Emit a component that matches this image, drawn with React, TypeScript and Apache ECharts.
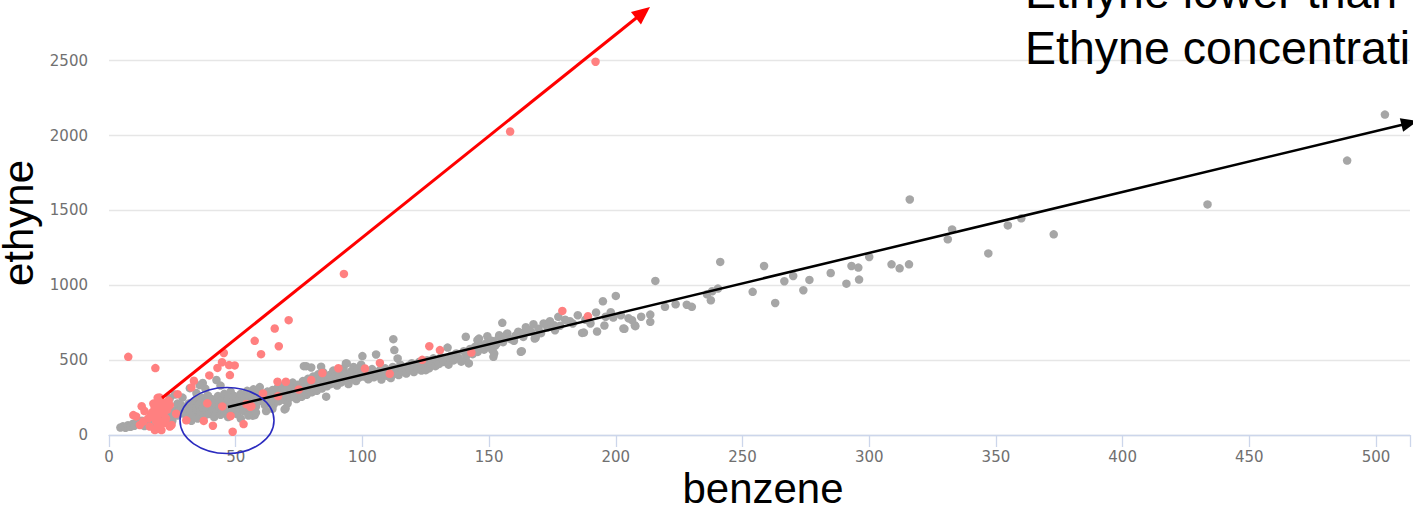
import React, { useEffect, useRef } from "react";
import * as echarts from "echarts";

const xTickValues = [0, 50, 100, 150, 200, 250, 300, 350, 400, 450, 500];
const yTickValues = [0, 500, 1000, 1500, 2000, 2500];
const xName = "benzene";
const yName = "ethyne";
const noteLines = ["Ethyne lower than", "Ethyne concentrati"];

// benzene, ethyne — points below the red trend (grey)
const grayPoints: [number, number][] = [
  [503.5, 2140], [488.6, 1833], [433.5, 1540], [316, 1573], [332.7, 1373], [331, 1307],
  [354.7, 1400], [360, 1447], [372.8, 1340], [347, 1213], [312, 1113], [315.7, 1140],
  [241.2, 1156], [258.5, 1129], [215.6, 1029], [266.5, 1027], [270, 1062], [276.4, 1036],
  [284.8, 1082], [291, 1011], [293, 1129], [295.7, 1118], [296, 1038], [300, 1189],
  [308.8, 1140], [254, 956], [262.9, 882], [274, 967], [240.3, 978], [237.5, 900],
  [230, 856], [223.6, 873], [219.4, 856], [213.6, 804], [213.6, 756], [207.5, 733],
  [206.4, 767], [203.4, 709], [200, 929], [194.9, 893], [195.5, 731], [192.6, 691],
  [192.2, 818], [187.4, 684], [181.9, 760], [177.3, 789], [175.6, 733], [173, 718],
  [168.4, 651], [165, 700], [162.9, 560], [159.8, 629], [155.2, 749], [154, 667],
  [157.2, 678], [149.3, 660], [146, 644], [140.8, 656], [140.8, 500], [142, 478],
  [133.6, 584], [151.7, 522], [151.3, 567], [199, 784], [186.7, 682], [203, 711],
  [207.7, 727], [173.6, 722], [176, 700], [165.7, 700], [163, 682], [168, 644],
  [162.5, 556], [157, 671], [153, 611], [152, 544], [145.4, 633],
  [100.5, 390], [101.5, 420], [102.3, 372], [103, 405], [103.8, 440], [104.5, 385],
  [105.2, 415], [106, 398], [106.8, 432], [107.5, 370], [108.2, 410], [109, 445],
  [109.7, 395], [110.5, 425], [111.2, 380], [112, 455], [112.8, 412], [113.5, 438],
  [114.3, 400], [115, 470], [115.8, 425], [116.5, 448], [117.3, 410], [118, 462],
  [118.8, 435], [119.5, 480], [120.3, 420], [121, 455], [121.8, 440], [122.5, 490],
  [123.3, 430], [124, 468], [124.8, 452], [125.5, 500], [126.3, 445], [127, 478],
  [128, 512], [128.8, 460], [129.5, 495], [130.3, 475], [131, 520], [132, 488],
  [133, 505], [134, 470], [135, 530], [136, 498], [137, 545], [138, 515],
  [139, 490], [140, 560], [141, 530], [142.5, 575], [143.5, 540], [144.5, 590],
  [145.5, 555], [147, 600], [148, 570], [149, 615], [150, 585], [151, 630],
  [152.5, 598], [153.5, 640], [155.5, 620], [156.5, 655], [158.5, 640], [160.5, 665],
  [161.5, 690], [163.5, 655], [164.5, 720], [166.5, 690], [167.5, 740], [169.5, 710],
  [170.5, 680], [171.5, 745], [174, 760], [178, 730], [180, 770], [183, 745],
  [185, 800], [188, 770], [190, 745], [196, 790], [198, 820], [202, 800],
  [205, 780], [210, 790], [228, 870], [236, 940], [238, 960],
  [60.5, 230], [61, 270], [61.5, 200], [62, 250], [62.5, 290], [63, 215],
  [63.5, 262], [64, 238], [64.5, 300], [65, 205], [65.5, 275], [66, 245],
  [66.5, 315], [67, 225], [67.5, 290], [68, 258], [68.5, 330], [69, 235],
  [69.5, 300], [70, 270], [70.5, 212], [71, 320], [71.5, 250], [72, 285],
  [72.5, 350], [73, 265], [73.5, 305], [74, 240], [74.5, 335], [75, 280],
  [75.5, 318], [76, 255], [76.5, 360], [77, 295], [77.5, 330], [78, 268],
  [78.5, 375], [79, 305], [79.5, 345], [80, 285], [80.5, 390], [81, 320],
  [81.5, 355], [82, 295], [82.5, 405], [83, 335], [83.5, 372], [84, 310],
  [84.5, 420], [85, 345], [85.5, 385], [86, 325], [86.5, 360], [87, 400],
  [87.5, 340], [88, 375], [88.5, 430], [89, 355], [89.5, 395], [90, 330],
  [90.5, 378], [91, 412], [91.5, 350], [92, 390], [92.5, 445], [93, 365],
  [93.5, 478], [94, 405], [94.5, 340], [95, 385], [95.5, 425], [96, 372],
  [96.5, 455], [97, 395], [97.5, 360], [98, 438], [98.5, 382], [99, 415],
  [99.5, 470], [100, 527], [105.4, 538], [112.2, 640], [112.6, 567], [113.9, 511],
  [125, 433], [93.8, 478], [83.7, 456], [77.8, 460], [76.9, 460], [79.8, 451],
  [85.7, 256], [69.7, 178], [69.3, 171], [57.5, 133], [56.7, 129],
  [30, 140], [30.5, 180], [31, 115], [31.5, 210], [32, 160], [32.5, 95],
  [33, 190], [33.5, 135], [34, 230], [34.5, 170], [35, 110], [35.5, 205],
  [36, 150], [36.5, 250], [37, 185], [37.5, 125], [38, 220], [38.5, 165],
  [39, 265], [39.5, 140], [40, 200], [40.5, 240], [41, 175], [41.5, 120],
  [42, 215], [42.5, 155], [43, 260], [43.5, 190], [44, 135], [44.5, 230],
  [45, 170], [45.5, 275], [46, 205], [46.5, 150], [47, 245], [47.5, 185],
  [48, 290], [48.5, 220], [49, 160], [49.5, 260], [50, 200], [50.5, 140],
  [51, 235], [51.5, 180], [52, 275], [52.5, 215], [53, 160], [53.5, 250],
  [54, 195], [54.5, 295], [55, 230], [55.5, 175], [56, 265], [56.5, 210],
  [57, 305], [57.5, 245], [58, 190], [58.5, 280], [59, 225], [59.5, 320],
  [60, 260], [34.5, 280], [37, 347], [42.4, 367], [44, 330], [38, 310],
  [31.9, 313], [35.8, 333], [47, 120], [52, 110], [55, 130], [58, 150],
  [62, 160], [64.5, 175],
  [4.5, 50], [5.5, 58], [6.5, 48], [7.5, 65], [8.5, 55], [9.5, 75],
  [10, 62], [11, 85], [12, 72], [13, 95], [14, 60], [15, 88],
  [16, 100], [17, 78], [18, 115], [19, 90], [20, 125], [21, 100],
  [22, 140], [23, 110], [24, 150], [25, 120], [26, 165], [27, 130],
  [28, 180], [29, 145], [25, 95], [27, 210], [29, 250], [26, 270],
  [24, 245], [28.5, 200],
];

// points above the trend (red)
const redPoints: [number, number][] = [
  [192, 2493], [158.3, 2027], [92.7, 1076],
  [70.9, 767], [65.4, 711], [67, 593], [57.5, 629], [60, 540],
  [7.6, 522], [18.3, 447],
  [45.3, 548], [44.6, 486], [47.4, 467], [49.6, 465], [47.7, 400], [42.8, 448], [39.6, 398],
  [33.5, 362], [32.5, 318], [27.1, 273], [19.2, 248], [12.9, 192], [10.7, 124],
  [12.2, 67], [15.5, 111], [9.6, 133], [20.7, 33], [24, 56], [26.5, 142], [24.7, 67],
  [30.5, 98], [16.1, 56], [18.1, 33], [38.8, 212], [44.7, 191], [37.4, 94],
  [41, 62], [48, 127], [48.8, 22], [53.1, 73], [54.2, 207], [55.8, 189],
  [17, 150], [18, 180], [19, 120], [19.5, 200], [20, 160], [20.5, 90],
  [21, 220], [21.5, 140], [22, 190], [22.5, 110], [23, 170], [23.5, 230],
  [18.5, 95], [17.5, 210], [20, 250], [22, 80], [16.5, 130], [24, 200],
  [14, 160], [13.5, 90], [19.2, 56],
  [56.2, 193], [60.8, 278], [66.7, 260], [74.9, 304], [66.5, 356], [69.8, 356],
  [79.8, 367], [84.2, 414], [90.5, 446], [101, 444], [106.9, 481], [110.8, 409],
  [123.6, 502], [126.4, 593], [130.6, 567], [143, 551], [178.9, 829], [189, 793],
];

export default function App() {
  const ref = useRef<HTMLDivElement>(null);

  useEffect(() => {
    if (!ref.current) return;
    const chart = echarts.init(ref.current, null, { renderer: "svg" });

    const arrow = (
      x1: number, y1: number, x2: number, y2: number,
      color: string, width: number, headLen: number, headHalf: number
    ) => {
      const dx = x2 - x1;
      const dy = y2 - y1;
      const L = Math.hypot(dx, dy);
      const ux = dx / L;
      const uy = dy / L;
      const bx = x2 - ux * headLen;
      const by = y2 - uy * headLen;
      const px = -uy;
      const py = ux;
      return [
        {
          type: "line",
          z: 100,
          shape: { x1, y1, x2: bx + ux * 2, y2: by + uy * 2 },
          style: { stroke: color, lineWidth: width },
        },
        {
          type: "polygon",
          z: 100,
          shape: {
            points: [
              [x2, y2],
              [bx + px * headHalf, by + py * headHalf],
              [bx - px * headHalf, by - py * headHalf],
            ],
          },
          style: { fill: color },
        },
      ];
    };

    const bigFont = "Liberation Sans";

    chart.setOption({
      animation: false,
      backgroundColor: "#ffffff",
      grid: { left: 109, right: 0, top: 60.7, bottom: 75, containLabel: false },
      xAxis: {
        type: "value",
        min: 0,
        max: 513.4,
        interval: 50,
        axisLine: { show: true, lineStyle: { color: "#ccd6eb", width: 1.3 } },
        axisTick: { show: true, length: 12, lineStyle: { color: "#ccd6eb", width: 1.3 } },
        axisLabel: {
          color: "#707070",
          fontSize: 15,
          fontFamily: "DejaVu Sans",
          margin: 14,
          formatter: (v: number) => (xTickValues.includes(v) ? String(v) : ""),
        },
        splitLine: { show: false },
      },
      yAxis: {
        type: "value",
        min: yTickValues[0],
        max: yTickValues[yTickValues.length - 1],
        interval: 500,
        axisLine: { show: false },
        axisTick: { show: false },
        axisLabel: {
          color: "#707070",
          fontSize: 15,
          fontFamily: "DejaVu Sans",
          margin: 21,
          formatter: (v: number) => String(v),
        },
        splitLine: { show: true, lineStyle: { color: "#e6e6e6", width: 1.3 } },
      },
      series: [
        {
          type: "scatter",
          data: grayPoints,
          symbolSize: 8.5,
          itemStyle: { color: "#a6a6a6", opacity: 1 },
          z: 2,
        },
        {
          type: "scatter",
          data: redPoints,
          symbolSize: 8.5,
          itemStyle: { color: "#ff8080", opacity: 1 },
          z: 3,
        },
      ],
      graphic: [
        ...arrow(162, 398, 650, 7, "#ff0000", 3, 18, 8),
        ...arrow(228, 407, 1418, 121, "#000000", 2.5, 17, 7),
        {
          type: "ellipse",
          z: 100,
          shape: { cx: 227, cy: 420.5, rx: 47, ry: 33 },
          style: { fill: "none", stroke: "#2b2bbf", lineWidth: 1.6 },
        },
        {
          type: "text",
          z: 100,
          x: 1025,
          y: -8,
          style: {
            text: noteLines[0],
            fontSize: 46.5,
            fontFamily: bigFont,
            fill: "#000",
            align: "left",
            verticalAlign: "middle",
            lineHeight: 40,
          },
        },
        {
          type: "text",
          z: 100,
          x: 1025,
          y: 48,
          style: {
            text: noteLines[1],
            fontSize: 46.5,
            fontFamily: bigFont,
            fill: "#000",
            align: "left",
            verticalAlign: "middle",
            lineHeight: 40,
          },
        },
        {
          type: "text",
          z: 100,
          x: 763,
          y: 488.4,
          style: {
            text: xName,
            fontSize: 42,
            fontFamily: bigFont,
            fill: "#000",
            align: "center",
            verticalAlign: "middle",
            lineHeight: 34,
          },
        },
        {
          type: "text",
          z: 100,
          x: 18.4,
          y: 223,
          rotation: Math.PI / 2,
          style: {
            text: yName,
            fontSize: 42,
            fontFamily: bigFont,
            fill: "#000",
            align: "center",
            verticalAlign: "middle",
            lineHeight: 34,
          },
        },
      ],
    });

    return () => chart.dispose();
  }, []);

  return (
    <div
      ref={ref}
      style={{ position: "absolute", left: 0, top: 0, width: 1413, height: 510 }}
    />
  );
}
